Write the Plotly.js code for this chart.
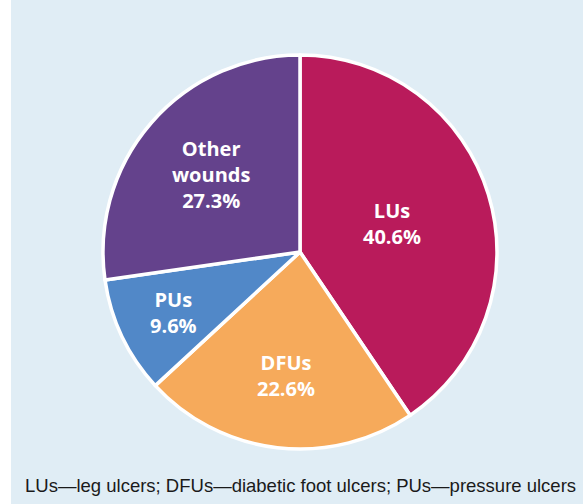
<!DOCTYPE html>
<html>
<head>
<meta charset="utf-8">
<script src="https://cdn.plot.ly/plotly-3.0.1.min.js"></script>
<style>
  html, body { margin: 0; padding: 0; background: #ffffff; }
  #chart { width: 583px; height: 504px; }
</style>
</head>
<body>
<div id="chart"></div>
<script>
// Wound aetiology shares (%), clockwise from 12 o'clock
const categories = ['LUs', 'DFUs', 'PUs', 'Other wounds'];
const labelLines = ['LUs', 'DFUs', 'PUs', 'Other<br>wounds'];
const shares = [40.6, 22.6, 9.6, 27.3];
const sliceColors = ['#b91b5b', '#f6aa5b', '#5188c8', '#64428c'];
const caption = 'LUs\u2014leg ulcers; DFUs\u2014diabetic foot ulcers; PUs\u2014pressure ulcers';

const W = 583, H = 504;
const margin = { l: 0, r: 0, t: 55, b: 55 };
const plotH = H - margin.t - margin.b;
const cx = 300 / W;          // pie centre, as a fraction of the width
const half = 0.36;           // half of the pie's horizontal domain

// Label positions: along each slice's mid-angle, at a radial fraction
const radialFrac = [0.49, 0.63, 0.71, 0.60];
const radiusPx = plotH / 2;
const total = shares.reduce((a, b) => a + b, 0);
let cum = 0;
const annotations = shares.map((v, i) => {
  const mid = (cum + v / 2) / total;
  cum += v;
  const ang = mid * 2 * Math.PI;           // clockwise from top
  const dx = Math.sin(ang) * radiusPx * radialFrac[i];
  const dy = Math.cos(ang) * radiusPx * radialFrac[i];
  return {
    xref: 'paper', yref: 'paper',
    x: cx + dx / W,
    y: 0.5 + dy / plotH,
    xanchor: 'center', yanchor: 'middle',
    showarrow: false,
    align: 'center',
    text: '<b>' + labelLines[i] + '<br>' + v.toFixed(1) + '%</b>',
    font: { family: 'Open Sans, Noto Sans, sans-serif', size: 20, color: '#ffffff' }
  };
});

annotations.push({
  xref: 'paper', yref: 'paper',
  x: 300.5 / W, y: -(485 - (H - margin.b)) / plotH,
  xanchor: 'center', yanchor: 'middle',
  showarrow: false,
  text: caption,
  font: { family: 'Liberation Sans, Arial, sans-serif', size: 18.5, color: '#1a1a1a' }
});

const data = [{
  type: 'pie',
  labels: categories,
  values: shares,
  sort: false,
  direction: 'clockwise',
  rotation: 0,
  textinfo: 'none',
  hoverinfo: 'label+percent',
  marker: { colors: sliceColors, line: { color: '#ffffff', width: 3.5 } },
  domain: { x: [cx - half, cx + half], y: [0, 1] },
  showlegend: false
}];

const layout = {
  width: W, height: H,
  margin: margin,
  paper_bgcolor: '#e0edf5',
  plot_bgcolor: '#e0edf5',
  showlegend: false,
  annotations: annotations,
  shapes: [{
    type: 'rect', xref: 'paper', yref: 'paper',
    x0: 0, x1: 11 / W, y0: -0.3, y1: 1.3,
    fillcolor: '#ffffff', line: { width: 0 }, layer: 'below'
  }]
};

Plotly.newPlot('chart', data, layout, { displayModeBar: false, staticPlot: true });
</script>
</body>
</html>
